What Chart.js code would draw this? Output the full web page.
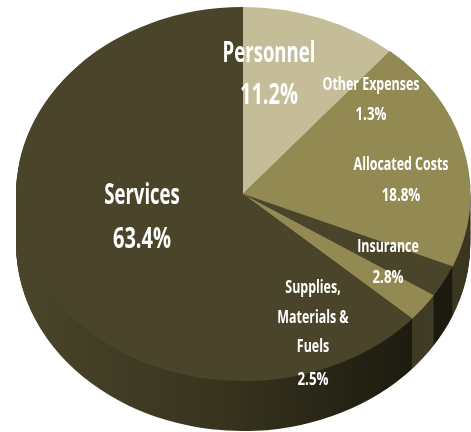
<!DOCTYPE html>
<html><head><meta charset="utf-8">
<script src="https://cdn.jsdelivr.net/npm/chart.js@4/dist/chart.umd.min.js"></script>
<style>html,body{margin:0;padding:0;background:#fff;overflow:hidden}canvas{display:block}</style>
</head><body><canvas id="c" width="471" height="432"></canvas>
<script>
const categories = ["Personnel","Other Expenses","Allocated Costs","Insurance","Supplies, Materials & Fuels","Services"];
const shares = [11.2,1.3,18.8,2.8,2.5,63.4];
const topColors = ["#c4bd97","#938953","#938953","#4a452a","#938953","#4a452a"];
const wallColors = ["#4a452a","#3c3822","#3c3822","#1d1b10","#3f3b24",null];
const wallGradientStops = ["#4a452a","#38341f","#1d1b10"];

// Layout only
const CX=243, CY=194.5, RX=227, SCALE_Y=187/227, DEPTH=50;
const BIG=29, SMALL=18, BIG_SX=.64, SMALL_SX=.69, BIG_NUM_SX=.69, SMALL_NUM_SX=.74;
const labelLayout = [
 {text:"Personnel",x:269,y:54,size:BIG,sx:BIG_SX},
 {text:"11.2%",x:269,y:96,size:BIG,sx:BIG_NUM_SX},
 {text:"Services",x:142,y:196,size:BIG,sx:BIG_SX},
 {text:"63.4%",x:142,y:240,size:BIG,sx:BIG_NUM_SX},
 {text:"Other Expenses",x:371,y:85,size:SMALL,sx:SMALL_SX},
 {text:"1.3%",x:371,y:115,size:SMALL,sx:SMALL_NUM_SX},
 {text:"Allocated Costs",x:401,y:165,size:SMALL,sx:SMALL_SX},
 {text:"18.8%",x:401,y:196,size:SMALL,sx:SMALL_NUM_SX},
 {text:"Insurance",x:388,y:247,size:SMALL,sx:SMALL_SX},
 {text:"2.8%",x:388,y:278,size:SMALL,sx:SMALL_NUM_SX},
 {text:"Supplies,",x:313,y:288,size:SMALL,sx:SMALL_SX},
 {text:"Materials &",x:313,y:318,size:SMALL,sx:SMALL_SX},
 {text:"Fuels",x:313,y:347,size:SMALL,sx:SMALL_SX},
 {text:"2.5%",x:313,y:380,size:SMALL,sx:SMALL_NUM_SX}
];

function toEllipse(ctx,dy){
  ctx.translate(CX,CY+dy); ctx.scale(1,SCALE_Y); ctx.translate(-CX,-CY);
}
const pie3d = {
  id:'pie3d',
  beforeDatasetDraw(chart,args){
    const ctx=chart.ctx, meta=args.meta;
    const g=ctx.createLinearGradient(CX-RX,0,CX+RX*0.75,0);
    wallGradientStops.forEach((c,i)=>g.addColorStop(i/(wallGradientStops.length-1),c));
    for(let d=DEPTH;d>=1;d--){
      ctx.save(); toEllipse(ctx,d);
      meta.data.forEach((arc,i)=>{
        const o=arc.options;
        arc.options=Object.assign({},o,{backgroundColor:wallColors[i]||g,borderWidth:0});
        arc.draw(ctx);
        arc.options=o;
      });
      ctx.restore();
    }
    ctx.save(); toEllipse(ctx,0);
  },
  afterDatasetDraw(chart){ chart.ctx.restore(); },
  afterDraw(chart){
    const ctx=chart.ctx;
    ctx.save();
    ctx.fillStyle='#fff'; ctx.textAlign='center'; ctx.textBaseline='middle';
    labelLayout.forEach(l=>{
      ctx.save();
      ctx.translate(l.x,l.y); ctx.scale(l.sx,1);
      ctx.font='bold '+l.size+'px "Open Sans",sans-serif';
      ctx.fillText(l.text,0,0);
      ctx.restore();
    });
    ctx.restore();
  }
};
new Chart(document.getElementById('c'),{
  type:'pie',
  data:{labels:categories,datasets:[{data:shares,backgroundColor:topColors,borderColor:topColors,borderWidth:[0,1,1,0,0,0],clip:false,radius:RX}]},
  options:{
    responsive:false,animation:false,
    layout:{padding:{left:15,right:0,top:0,bottom:44}},
    plugins:{legend:{display:false},tooltip:{enabled:false}}
  },
  plugins:[pie3d]
});
</script></body></html>
